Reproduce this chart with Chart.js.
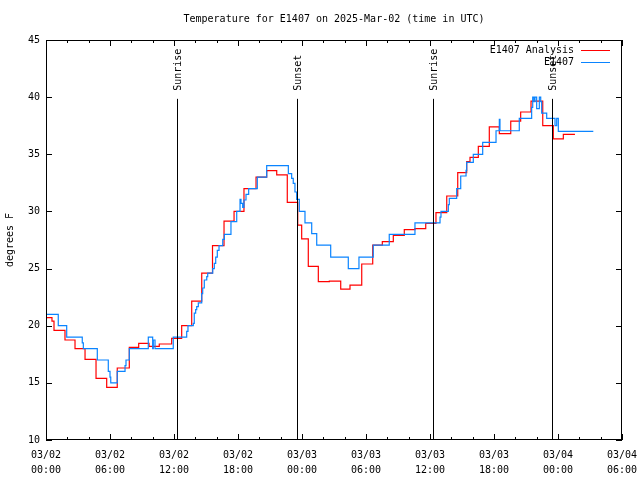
<!DOCTYPE html>
<html>
<head>
<meta charset="utf-8">
<script src="https://cdn.jsdelivr.net/npm/chart.js@4/dist/chart.umd.min.js"></script>
<style>
  body { margin: 0; background: #fff; }
  canvas { display: block; }
</style>
</head>
<body>
<canvas id="tempChart" width="640" height="480"></canvas>
<script>
// hours since 03/02 00:00 UTC, value becomes temp at that hour
const analysisHours = [0.05, 0.56, 0.75, 1.78, 2.72, 3.66, 4.69, 5.69, 6.68, 7.81, 8.69, 9.66, 10.62, 11.78, 12.72,
  13.66, 14.6, 15.61, 16.69, 17.63, 18.56, 19.69, 20.69, 21.63, 22.62, 23.6, 23.97, 24.59, 25.53,
  26.56, 27.63, 28.5, 29.6, 30.63, 31.53, 32.56, 33.59, 34.59, 35.6, 36.56, 37.57, 38.6, 39.44, 39.75,
  40.53, 41.56, 42.5, 43.57, 44.5, 45.47, 46.57, 47.56, 48.5, 49.59];
const analysisTemps = [20.7, 20.4, 19.6, 18.75, 18.0, 17.06, 15.4, 14.6, 16.3, 18.1, 18.46, 18.2, 18.4, 18.9, 20.0,
  22.15, 24.6, 27.0, 29.16, 30.0, 32.0, 33.0, 33.57, 33.2, 30.8, 28.8, 27.6, 25.2, 23.85,
  23.9, 23.2, 23.56, 25.4, 27.06, 27.35, 27.9, 28.4, 28.5, 28.95, 29.9, 31.35, 33.4, 34.36, 34.73,
  35.7, 37.4, 36.8, 37.9, 38.7, 39.66, 37.5, 36.34, 36.75, 36.75];

const stationHours = [0.05, 1.15, 1.94, 3.4, 3.5, 4.81, 5.84, 6.0, 6.07, 6.68,
  7.41, 7.5, 7.81, 9.59, 10.0, 10.06, 10.22, 11.93, 13.19, 13.31,
  13.81, 13.9, 14.03, 14.13, 14.28, 14.6, 14.69, 14.84, 15.07, 15.16,
  15.63, 15.78, 15.91, 16.06, 16.22, 16.57, 16.72, 17.34, 17.88, 18.19,
  18.28, 18.44, 18.56, 18.75, 19.0, 19.81, 20.69, 22.72, 23.03, 23.18,
  23.34, 23.5, 23.75, 24.28, 24.91, 25.38, 26.69, 28.34, 29.34, 30.68,
  32.18, 34.59, 36.94, 37.03, 37.72, 37.81, 38.5, 38.88, 39.38, 39.44,
  40.06, 40.94, 42.19, 42.5, 42.56, 44.37, 45.53, 45.63, 45.75, 45.84,
  46.0, 46.25, 46.38, 46.47, 46.94, 47.72, 47.88, 48.03, 51.31];
const stationTemps = [21.0, 20.0, 19.0, 18.5, 18.0, 17.0, 16.0, 15.5, 15.0, 16.0,
  16.5, 17.0, 18.0, 19.0, 18.0, 18.75, 18.0, 19.0, 19.5, 20.0,
  20.2, 21.1, 21.4, 21.67, 22.0, 22.8, 23.3, 24.0, 24.3, 24.6,
  25.0, 25.45, 26.0, 26.6, 27.0, 27.56, 28.0, 29.1, 30.0, 31.06,
  30.7, 30.35, 31.0, 31.5, 32.0, 33.0, 34.0, 33.3, 32.9, 32.46,
  31.7, 31.06, 30.0, 29.0, 28.06, 27.06, 26.0, 25.0, 26.0, 27.06,
  28.0, 29.0, 29.5, 30.0, 30.6, 31.15, 32.0, 33.1, 33.6, 34.3,
  35.0, 36.04, 37.06, 38.06, 37.06, 38.15, 39.1, 40.0, 39.6, 40.0,
  39.0, 40.0, 39.6, 38.6, 38.15, 37.5, 38.15, 37.0, 37.0];

const sunLabels = ["Sunrise", "Sunset", "Sunrise", "Sunset"];
const sunHours = [12.31, 23.5, 36.25, 47.47];
const sunTop = 39.85;

const seriesNames = ["E1407 Analysis", "E1407"];
const seriesColors = ["#ff0000", "#0a84ff"];

const FONT = "DejaVu Sans Mono";

// frame with inward ticks, sunrise/sunset markers, gnuplot style key
const overlay = {
  id: "overlay",
  afterDraw(chart) {
    const { ctx, chartArea: a, scales: { x, y } } = chart;
    ctx.save();
    ctx.strokeStyle = "#000";
    ctx.lineWidth = 1;
    ctx.strokeRect(a.left + 0.5, a.top + 0.5, a.right - a.left - 1, a.bottom - a.top - 1);

    ctx.beginPath();
    for (let h = 0; h <= 54; h += 2) {
      const px = Math.round(x.getPixelForValue(h)) + 0.5;
      const len = h % 6 === 0 ? 6 : 3;
      ctx.moveTo(px, a.bottom); ctx.lineTo(px, a.bottom - len);
      ctx.moveTo(px, a.top); ctx.lineTo(px, a.top + len);
    }
    for (let v = 10; v <= 45; v += 5) {
      const py = Math.round(y.getPixelForValue(v)) + 0.5;
      ctx.moveTo(a.left, py); ctx.lineTo(a.left + 6, py);
      ctx.moveTo(a.right, py); ctx.lineTo(a.right - 6, py);
    }
    ctx.stroke();

    // sunrise / sunset
    ctx.font = "10px " + FONT;
    ctx.fillStyle = "#000";
    sunHours.forEach((h, i) => {
      const px = Math.round(x.getPixelForValue(h)) + 0.5;
      const top = y.getPixelForValue(sunTop);
      ctx.beginPath();
      ctx.moveTo(px, top);
      ctx.lineTo(px, a.bottom);
      ctx.stroke();
      ctx.save();
      ctx.translate(px + 1, top - 8);
      ctx.rotate(-Math.PI / 2);
      ctx.textAlign = "left";
      ctx.textBaseline = "middle";
      ctx.fillText(sunLabels[i], 0, 0);
      ctx.restore();
    });

    // key
    ctx.textAlign = "right";
    ctx.textBaseline = "middle";
    seriesNames.forEach((name, i) => {
      const ty = a.top + 10 + i * 12;
      ctx.fillStyle = "#000";
      ctx.fillText(name, a.right - 48, ty);
      ctx.strokeStyle = seriesColors[i];
      ctx.beginPath();
      ctx.moveTo(a.right - 41, ty + 0.5);
      ctx.lineTo(a.right - 12, ty + 0.5);
      ctx.stroke();
    });
    ctx.restore();
  }
};

function pad2(n) { return String(n).padStart(2, "0"); }

new Chart(document.getElementById("tempChart"), {
  type: "line",
  data: {
    datasets: [
      {
        label: seriesNames[0],
        data: analysisHours.map((h, i) => ({ x: h, y: analysisTemps[i] })),
        borderColor: seriesColors[0],
        borderWidth: 1.2,
        pointRadius: 0,
        stepped: "before",
        order: 1
      },
      {
        label: seriesNames[1],
        data: stationHours.map((h, i) => ({ x: h, y: stationTemps[i] })),
        borderColor: seriesColors[1],
        borderWidth: 1.2,
        pointRadius: 0,
        stepped: "before",
        order: 0
      }
    ]
  },
  options: {
    responsive: false,
    animation: false,
    layout: { padding: { right: 18, left: 0, bottom: 0, top: 0 } },
    plugins: {
      legend: { display: false },
      tooltip: { enabled: false },
      title: {
        display: true,
        fullSize: false,
        text: "Temperature for E1407 on 2025-Mar-02 (time in UTC)",
        color: "#000",
        font: { family: FONT, size: 10, weight: "normal", lineHeight: 1.2 },
        padding: { top: 13, bottom: 15 }
      }
    },
    scales: {
      x: {
        type: "linear",
        min: 0,
        max: 54,
        grid: { display: false, drawTicks: false },
        border: { display: false },
        afterFit: (s) => { s.height = 40; s.paddingLeft = 0; s.paddingRight = 0; },
        ticks: {
          stepSize: 6,
          autoSkip: false,
          maxRotation: 0,
          padding: 8,
          color: "#000",
          font: { family: FONT, size: 10, lineHeight: 1.5 },
          callback: (v) => {
            const day = 2 + Math.floor(v / 24);
            return ["03/" + pad2(day), pad2(v % 24) + ":00"];
          }
        }
      },
      y: {
        min: 10,
        max: 45,
        grid: { display: false, drawTicks: false },
        border: { display: false },
        afterFit: (s) => { s.width = 46; s.paddingTop = 0; s.paddingBottom = 0; },
        ticks: {
          stepSize: 5,
          padding: 6,
          color: "#000",
          font: { family: FONT, size: 10 }
        },
        title: {
          display: true,
          text: "degrees F",
          color: "#000",
          font: { family: FONT, size: 10 }
        }
      }
    }
  },
  plugins: [overlay]
});
</script>
</body>
</html>
